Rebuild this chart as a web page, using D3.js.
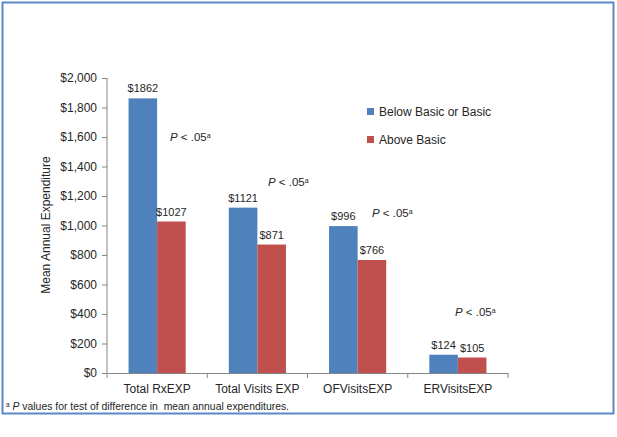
<!DOCTYPE html>
<html><head><meta charset="utf-8">
<script src="https://cdn.jsdelivr.net/npm/d3@7"></script>
<style>
body{margin:0;background:#fff;}
text{font-family:"Liberation Sans","Noto Sans",Arial,sans-serif;}
</style></head>
<body><svg id="c" width="617" height="437"></svg>
<script>
const categories = ["Total RxEXP","Total Visits EXP","OFVisitsEXP","ERVisitsEXP"];
const seriesNames = ["Below Basic or Basic","Above Basic"];
const belowBasic = [1862,1121,996,124];
const aboveBasic = [1027,871,766,105];
const yTicks = [0,200,400,600,800,1000,1200,1400,1600,1800,2000];
const pLabel = "P < .05";
const footnote = " values for test of difference in  mean annual expenditures.";
const colors = ["#4f81bd","#c0504d"];

const svg = d3.select("#c");
svg.append("rect").attr("x",2.5).attr("y",2.5).attr("width",611).attr("height",411)
  .attr("fill","#fff").attr("stroke","#5b89c6").attr("stroke-width",2);

const m = {l:107, r:508, t:78, b:373};
const x0 = d3.scaleBand().domain(categories).range([m.l,m.r]).paddingInner(0.43).paddingOuter(0.215);
const x1 = d3.scaleBand().domain([0,1]).range([0,x0.bandwidth()]);
const y = d3.scaleLinear().domain([0,2000]).range([m.b,m.t]);

// y axis
const ya = svg.append("g").attr("transform",`translate(${m.l},0)`)
  .call(d3.axisLeft(y).tickValues(yTicks).tickSize(5).tickPadding(5).tickFormat(d=>"$"+d3.format(",")(d)));
ya.select(".domain").attr("stroke","#868686").attr("d",`M0,${m.t}V${m.b}`);
ya.selectAll(".tick line").attr("stroke","#868686");
ya.selectAll(".tick text").attr("fill","#262626").style("font-size","12px");

// x axis
const xa = svg.append("g").attr("transform",`translate(0,${m.b})`)
  .call(d3.axisBottom(x0).tickSize(0).tickPadding(11));
xa.select(".domain").attr("stroke","#868686");
xa.selectAll(".tick text").attr("fill","#262626").style("font-size","12px");
const step = x0.step();
const bounds = d3.range(categories.length+1).map(i=>m.l+i*step);
svg.append("g").selectAll("line").data(bounds).join("line")
  .attr("x1",d=>d).attr("x2",d=>d).attr("y1",m.b).attr("y2",m.b+5).attr("stroke","#868686");

// bars
const data = categories.map((c,i)=>({c, vals:[belowBasic[i],aboveBasic[i]]}));
const g = svg.append("g").selectAll("g").data(data).join("g")
  .attr("transform",d=>`translate(${x0(d.c)},0)`);
g.selectAll("rect").data(d=>d.vals).join("rect")
  .attr("x",(d,i)=>x1(i)).attr("width",x1.bandwidth())
  .attr("y",d=>y(d)).attr("height",d=>m.b-y(d)).attr("fill",(d,i)=>colors[i]);
g.selectAll("text.v").data(d=>d.vals).join("text").attr("class","v")
  .attr("x",(d,i)=>x1(i)+x1.bandwidth()/2).attr("y",d=>y(d)-6)
  .attr("text-anchor","middle").attr("fill","#262626").style("font-size","11px")
  .text(d=>"$"+d);

// P labels
const pPos = [[170,141],[268,186],[372,217],[455,316]];
pPos.forEach(p=>{
  const t = svg.append("text").attr("x",p[0]).attr("y",p[1]).attr("fill","#262626").style("font-size","11.5px");
  t.append("tspan").attr("font-style","italic").text("P");
  t.append("tspan").text(" < .05");
  t.append("tspan").attr("dy",-3).style("font-size","7px").text("a");
});

// legend
seriesNames.forEach((s,i)=>{
  const ly = 112 + i*28;
  svg.append("rect").attr("x",367).attr("y",ly-4).attr("width",7).attr("height",7).attr("fill",colors[i]);
  svg.append("text").attr("x",379).attr("y",ly+4).attr("fill","#262626").style("font-size","12px").text(s);
});

// y title
svg.append("text").attr("transform","translate(50,225) rotate(-90)").attr("text-anchor","middle")
  .attr("fill","#262626").style("font-size","12px").text("Mean Annual Expenditure");

// footnote
const f = svg.append("text").attr("x",6).attr("y",410).attr("fill","#262626")
  .style("font-size","10.4px").style("white-space","pre");
f.append("tspan").attr("dy",-3).style("font-size","6.5px").text("a");
f.append("tspan").attr("dy",3).attr("font-style","italic").text(" P");
f.append("tspan").text(footnote);
</script></body></html>
